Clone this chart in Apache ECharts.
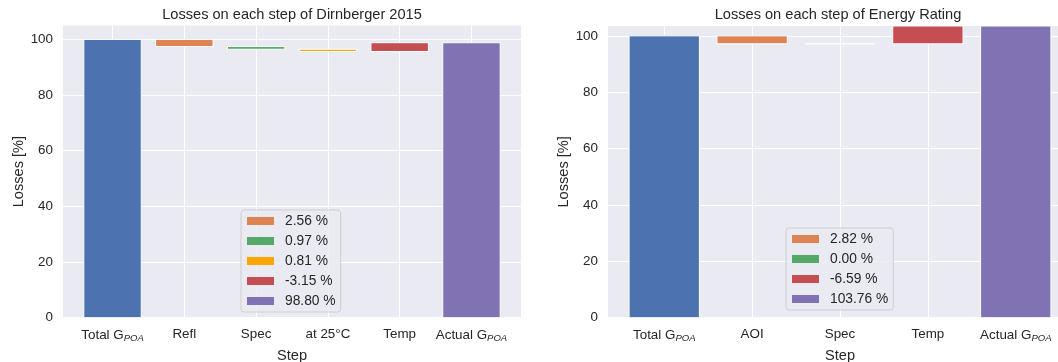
<!DOCTYPE html>
<html>
<head>
<meta charset="utf-8">
<style>
  html, body { margin: 0; padding: 0; background: #ffffff; }
  #chart { width: 1058px; height: 362px; }
</style>
<script src="https://cdn.jsdelivr.net/npm/echarts@6/dist/echarts.min.js"></script>
</head>
<body>
<div id="chart"></div>
<script>
// ---- Dirnberger 2015 ----
const dirSteps = ['Total G_POA', 'Refl', 'Spec', 'at 25°C', 'Temp', 'Actual G_POA'];
const dirTotal = 100;
const dirLosses = [2.56, 0.97, 0.81, -3.15];
const dirActual = 98.80;
const dirColors = ['#DD8452', '#55A868', '#FFA500', '#C44E52'];

// ---- Energy Rating ----
const erSteps = ['Total G_POA', 'AOI', 'Spec', 'Temp', 'Actual G_POA'];
const erTotal = 100;
const erLosses = [2.82, 0.00, -6.59];
const erActual = 103.76;
const erColors = ['#DD8452', '#55A868', '#C44E52'];

const yTicks = [0, 20, 40, 60, 80, 100];

const TOTAL_COLOR = '#4C72B0';
const ACTUAL_COLOR = '#8172B3';
const BG = '#EAEAF2';
const TEXT = '#262626';
const FONT = "'Liberation Sans', Arial, sans-serif";
const TITLE_SIZE = 14.6;
const LABEL_SIZE = 14.6;
const TICK_SIZE = 13.4;
const LEGEND_SIZE = 13.8;
const BAR_W = 0.8;

function fmt(v) { return v.toFixed(2) + ' %'; }

// one rectangle per data item: [x, low, high]
function renderBar(params, api) {
  const x = api.value(0), lo = api.value(1), hi = api.value(2);
  const p0 = api.coord([x - BAR_W / 2, hi]);
  const p1 = api.coord([x + BAR_W / 2, lo]);
  const rect = echarts.graphic.clipRectByRect(
    { x: p0[0], y: p0[1], width: p1[0] - p0[0], height: p1[1] - p0[1] },
    { x: params.coordSys.x, y: params.coordSys.y, width: params.coordSys.width, height: params.coordSys.height }
  );
  if (!rect) return null;
  return {
    type: 'rect',
    shape: rect,
    style: api.style({ stroke: '#ffffff', lineWidth: 1 })
  };
}

function stepLabel(steps) {
  return function (v) {
    const s = steps[Math.round(v)] || '';
    if (s.endsWith('_POA')) return '{a|' + s.replace('_POA', '') + '}{s|POA}';
    return '{a|' + s + '}';
  };
}

function buildPanel(gridIndex, steps, total, losses, actual, colors, namePrefix) {
  const series = [];
  series.push({
    type: 'custom', name: namePrefix + ' total', xAxisIndex: gridIndex, yAxisIndex: gridIndex,
    renderItem: renderBar, itemStyle: { color: TOTAL_COLOR },
    data: [[0, 0, total]]
  });
  let level = total;
  const legendNames = [];
  losses.forEach(function (loss, i) {
    const next = level - loss;
    const name = fmt(loss);
    legendNames.push(name);
    series.push({
      type: 'custom', name: name, xAxisIndex: gridIndex, yAxisIndex: gridIndex,
      renderItem: renderBar, itemStyle: { color: colors[i] },
      data: [[i + 1, Math.min(level, next), Math.max(level, next)]]
    });
    level = next;
  });
  const actualName = fmt(actual);
  legendNames.push(actualName);
  series.push({
    type: 'custom', name: actualName, xAxisIndex: gridIndex, yAxisIndex: gridIndex,
    renderItem: renderBar, itemStyle: { color: ACTUAL_COLOR },
    data: [[steps.length - 1, 0, actual]]
  });
  return { series: series, legendNames: legendNames };
}

const left = buildPanel(0, dirSteps, dirTotal, dirLosses, dirActual, dirColors, 'Dirnberger 2015');
const right = buildPanel(1, erSteps, erTotal, erLosses, erActual, erColors, 'Energy Rating');

function xAxis(gridIndex, steps, margin) {
  const vals = steps.map(function (_, i) { return i; });
  return {
    type: 'value', gridIndex: gridIndex,
    min: -margin, max: steps.length - 1 + margin,
    name: 'Step', nameLocation: 'middle', nameGap: 19,
    nameTextStyle: { color: TEXT, fontSize: LABEL_SIZE, fontFamily: FONT },
    axisLine: { show: false },
    axisTick: { show: false, customValues: vals },
    axisLabel: {
      customValues: vals, margin: 10, color: TEXT, fontFamily: FONT,
      formatter: stepLabel(steps),
      rich: {
        a: { fontSize: TICK_SIZE, color: TEXT, fontFamily: FONT },
        s: { fontSize: 9.5, fontStyle: 'italic', color: TEXT, fontFamily: FONT, padding: [6, 0, 0, 0] }
      }
    },
    splitLine: { show: true, lineStyle: { color: '#ffffff', width: 1 } }
  };
}

function yAxis(gridIndex, max) {
  return {
    type: 'value', gridIndex: gridIndex, min: 0, max: max,
    name: 'Losses [%]', nameLocation: 'middle', nameGap: 36,
    nameTextStyle: { color: TEXT, fontSize: LABEL_SIZE, fontFamily: FONT },
    axisLine: { show: false },
    axisTick: { show: false, customValues: yTicks },
    axisLabel: { customValues: yTicks, margin: 10, color: TEXT, fontSize: TICK_SIZE, fontFamily: FONT },
    splitLine: { show: true, lineStyle: { color: '#ffffff', width: 1 } }
  };
}

function legend(names, x, y) {
  return {
    data: names, orient: 'vertical', left: x, top: y,
    icon: 'rect', itemWidth: 27, itemHeight: 8, itemGap: 6,
    padding: [4, 5, 4, 6],
    backgroundColor: 'rgba(234,234,242,0.8)',
    borderColor: '#cfcfcf', borderWidth: 1, borderRadius: 3,
    selectedMode: false,
    textStyle: { color: TEXT, fontSize: LEGEND_SIZE, fontFamily: FONT, lineHeight: 14, padding: [0, 0, 0, 6] }
  };
}

const chart = echarts.init(document.getElementById('chart'), null, { renderer: 'canvas' });
chart.setOption({
  animation: false,
  backgroundColor: '#ffffff',
  title: [
    { text: 'Losses on each step of Dirnberger 2015', left: 292, top: 7, textAlign: 'center', padding: 0,
      textStyle: { color: TEXT, fontSize: TITLE_SIZE, fontWeight: 'normal', fontFamily: FONT } },
    { text: 'Losses on each step of Energy Rating', left: 838, top: 7, textAlign: 'center', padding: 0,
      textStyle: { color: TEXT, fontSize: TITLE_SIZE, fontWeight: 'normal', fontFamily: FONT } }
  ],
  grid: [
    { left: 63, top: 25.5, width: 458, height: 292.2, show: true, backgroundColor: BG, borderWidth: 0,
      outerBoundsMode: 'none', containLabel: false },
    { left: 608, top: 26, width: 464, height: 291.7, show: true, backgroundColor: BG, borderWidth: 0,
      outerBoundsMode: 'none', containLabel: false }
  ],
  xAxis: [xAxis(0, dirSteps, 0.69), xAxis(1, erSteps, 0.64)],
  yAxis: [yAxis(0, 105), yAxis(1, 103.5)],
  legend: [legend(left.legendNames, 241, 210), legend(right.legendNames, 786, 228)],
  series: left.series.concat(right.series)
});
</script>
</body>
</html>
